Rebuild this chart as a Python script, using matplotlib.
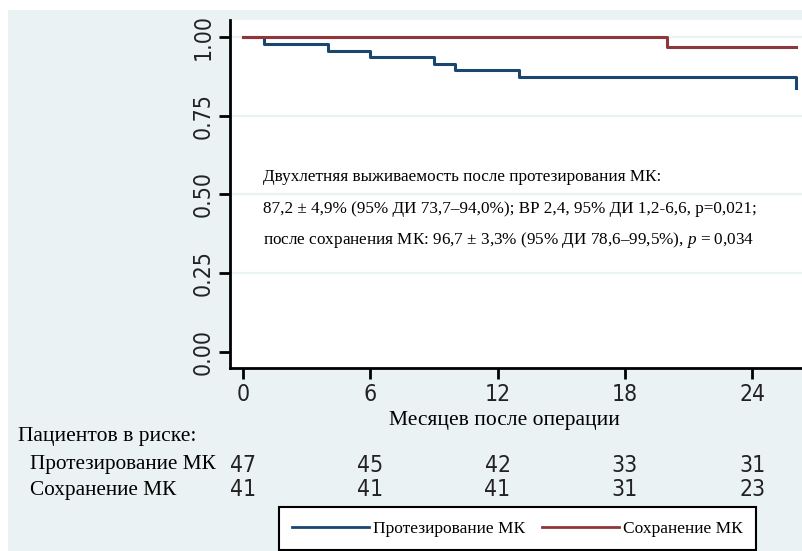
import matplotlib
matplotlib.use("Agg")
import matplotlib.pyplot as plt
from matplotlib.patches import Rectangle
from matplotlib.lines import Line2D
from matplotlib.transforms import blended_transform_factory

# ---- data ----
prot_times = [0, 1, 4, 6, 9, 10, 13, 26.05]
prot_surv = [1.0, 0.979, 0.957, 0.936, 0.915, 0.894, 0.872, 0.837]
save_times = [0, 20, 26.08]
save_surv = [1.0, 0.968, 0.968]

xticks = [0, 6, 12, 18, 24]
yticks = [0.0, 0.25, 0.50, 0.75, 1.00]
ytick_labels = ["0.00", "0.25", "0.50", "0.75", "1.00"]

risk_prot = [47, 45, 42, 33, 31]
risk_save = [41, 41, 41, 31, 23]

name_prot = "Протезирование МК"
name_save = "Сохранение МК"
xlabel = "Месяцев после операции"
risk_title = "Пациентов в риске:"
note_lines = [
    "Двухлетняя выживаемость после протезирования МК:",
    "87,2 ± 4,9% (95% ДИ 73,7–94,0%); ВР 2,4, 95% ДИ 1,2-6,6, p=0,021;",
    "после сохранения МК: 96,7 ± 3,3% (95% ДИ 78,6–99,5%), $\\it{p}$ = 0,034",
]

BLUE = "#1a476f"
RED = "#90353b"
BG = "#eaf2f3"
SERIF = "Liberation Serif"
SANS = dict(family="DejaVu Sans", stretch="condensed")

plt.rcParams["mathtext.fontset"] = "custom"
plt.rcParams["mathtext.it"] = "Liberation Serif:italic"
plt.rcParams["mathtext.rm"] = "Liberation Serif"

fig = plt.figure(figsize=(8.03, 5.51), dpi=100)
fig.patch.set_facecolor("white")
fig.add_artist(Rectangle((8 / 803, 0), 1, (551 - 10) / 551, transform=fig.transFigure,
                         facecolor=BG, edgecolor="none", zorder=0))

ax = fig.add_axes([230 / 803, (551 - 368) / 551, 1 - 230 / 803, (368 - 20) / 551])
ax.set_facecolor("white")
ax.set_xlim(-0.61, 26.4)
ax.set_ylim(-0.051, 1.054)

for yv in yticks[1:]:
    ax.axhline(yv, color=BG, lw=1.6, zorder=1)

ax.step(prot_times, prot_surv, where="post", color=BLUE, lw=2.2, zorder=3)
ax.step(save_times, save_surv, where="post", color=RED, lw=2.2, zorder=3)

for s in ["top", "right"]:
    ax.spines[s].set_visible(False)
for s in ["left", "bottom"]:
    ax.spines[s].set_linewidth(2)
    ax.spines[s].set_color("black")

ax.set_xticks(xticks)
ax.set_xticklabels([str(v) for v in xticks], fontsize=16.5, **SANS)
ax.set_yticks(yticks)
ax.set_yticklabels(ytick_labels, fontsize=16.5, rotation=90, va="center", **SANS)
ax.tick_params(axis="both", length=8, width=2, color="black", labelcolor="#222222")
ax.tick_params(axis="x", pad=3)
ax.tick_params(axis="y", pad=3)

ax.set_xlabel(xlabel, fontsize=15.5, family=SERIF, va="center")
ax.xaxis.set_label_coords((504.5 - 230) / 573, (368 - 420) / 348)

# annotation
for line, yy in zip(note_lines, [177, 209, 240]):
    ax.text(263, 551 - yy, line, transform=None, fontsize=12.3, family=SERIF,
            va="center", ha="left")

# risk table
tr = blended_transform_factory(ax.transData, fig.transFigure)
fig.text(18 / 803, 1 - 437 / 551, risk_title, fontsize=15.5, family=SERIF, va="center")
fig.text(30 / 803, 1 - 465 / 551, name_prot, fontsize=15.3, family=SERIF, va="center")
fig.text(30 / 803, 1 - 490 / 551, name_save, fontsize=15.3, family=SERIF, va="center")
for xv, a, b in zip(xticks, risk_prot, risk_save):
    ax.text(xv, 1 - 465 / 551, str(a), transform=tr, ha="center", va="center",
            fontsize=16.5, color="#222222", clip_on=False, **SANS)
    ax.text(xv, 1 - 490 / 551, str(b), transform=tr, ha="center", va="center",
            fontsize=16.5, color="#222222", clip_on=False, **SANS)

# legend
handles = [Line2D([], [], color=BLUE, lw=2), Line2D([], [], color=RED, lw=2)]
leg = fig.legend(handles, [name_prot, name_save], loc="center",
                 bbox_to_anchor=(517.5 / 803, 1 - 528.5 / 551), ncol=2,
                 prop=dict(family=SERIF, size=12.5), frameon=True, fancybox=False,
                 handlelength=4.4, columnspacing=1.0, handletextpad=0.25,
                 borderpad=0.75, borderaxespad=0)
leg.get_frame().set_edgecolor("black")
leg.get_frame().set_linewidth(1.5)
leg.get_frame().set_facecolor("white")
leg.get_frame().set_alpha(1)

fig.savefig("out.png", dpi=100)
